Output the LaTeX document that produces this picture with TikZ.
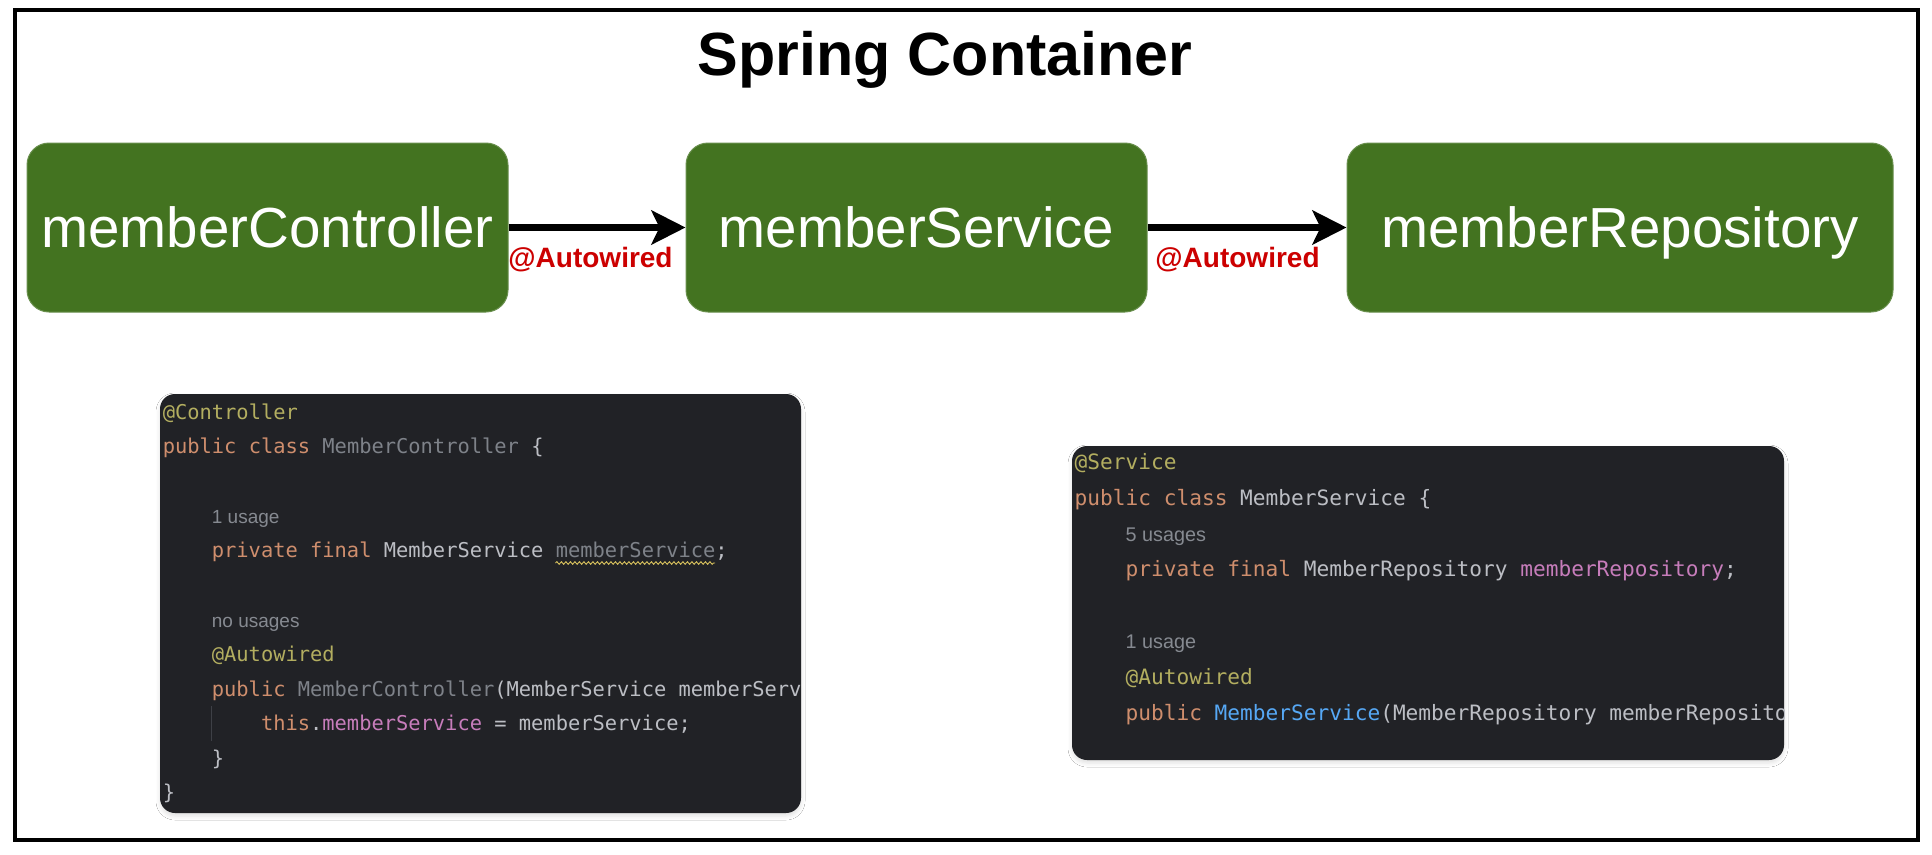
\documentclass[tikz,border=0pt]{standalone}
\usepackage{fontspec}
\setmainfont{Liberation Sans}
\newfontfamily\codefont{DejaVu Sans Mono}
\newfontfamily\hintfont{Liberation Sans}
\usetikzlibrary{arrows.meta,decorations.pathmorphing,shadows.blur}

\definecolor{boxgreen}{HTML}{437320}
\definecolor{autored}{HTML}{CC0000}
\definecolor{codebg}{HTML}{212226}
\definecolor{kw}{HTML}{CF8E6D}
\definecolor{ann}{HTML}{B3AE60}
\definecolor{fg}{HTML}{BCBEC4}
\definecolor{unused}{HTML}{7E8289}
\definecolor{fieldc}{HTML}{C77DBB}
\definecolor{methc}{HTML}{56A8F5}
\definecolor{hintc}{HTML}{868A91}
\definecolor{warnc}{HTML}{D9C25E}
\definecolor{guidec}{HTML}{3E4046}

\tikzset{
  bean/.style={rounded corners=22pt, fill=boxgreen, draw=boxgreen!80!white, line width=1pt,
    text=white, font=\fontsize{56.5}{56.5}\selectfont, minimum height=169pt, inner sep=0pt,
    text height=40pt, text depth=0pt},
  wire/.style={line width=7.5pt, -{Stealth[length=34pt,width=34pt,inset=8pt]}},
  autolab/.style={text=autored, font=\fontsize{28}{28}\selectfont\bfseries, inner sep=0pt},
  codebox/.style={rounded corners=15pt, fill=codebg, draw=none,
    blur shadow={shadow xshift=0pt, shadow yshift=-3pt, shadow blur radius=4pt, shadow opacity=12}},
  codeA/.style={inner sep=0pt, anchor=base west, text=fg, font=\codefont\fontsize{20.4}{20.4}\selectfont},
  hintA/.style={inner sep=0pt, anchor=base west, text=hintc, font=\hintfont\fontsize{19}{19}\selectfont},
  codeB/.style={inner sep=0pt, anchor=base west, text=fg, font=\codefont\fontsize{21.15}{21.15}\selectfont},
  hintB/.style={inner sep=0pt, anchor=base west, text=hintc, font=\hintfont\fontsize{19.8}{19.8}\selectfont},
}

\begin{document}
\begin{tikzpicture}[x=1pt,y=-1pt]
\fill[white] (0,0) rectangle (1932,854);
\useasboundingbox (0,0) rectangle (1932,854);
\draw[line width=4pt] (15,10) rectangle (1918,840);

\node (title) [anchor=base, inner sep=0pt, font=\fontsize{61}{61}\selectfont\bfseries] at (945,75) {Spring Container};

\node[bean, minimum width=481pt] (ctrl) at (267.5,227.5) {memberController};
\node[bean, minimum width=461pt] (svc) at (916.5,227.5) {memberService};
\node[bean, minimum width=546pt] (repo) at (1620,227.5) {memberRepository};

\draw[wire] (ctrl.east) -- (svc.west);
\draw[wire] (svc.east) -- (repo.west);
\node (lab1) [autolab, anchor=base] at (590.5,267) {@Autowired};
\node (lab2) [autolab, anchor=base] at (1237.5,267) {@Autowired};

% code block 1
\node[codebox, minimum width=641pt, minimum height=419pt] (cb1) at (480.5,603.5) {};
\begin{scope}
\clip[rounded corners=15pt] (160,394) rectangle (801,813);
\node[codeA] (c1a) at (162.6,419) {\textcolor{ann}{@Controller}};
\node[codeA] (c1b) at (162.6,453.5) {\textcolor{kw}{public class} \textcolor{unused}{MemberController} \{};
\node[hintA] (c1c) at (211.7,523) {1 usage};
\node[codeA] (c1d) at (211.7,557.5) {\textcolor{kw}{private final} MemberService \textcolor{unused}{memberService};};
\node[hintA] (c1e) at (211.7,627) {no usages};
\node[codeA] (c1f) at (211.7,661.5) {\textcolor{ann}{@Autowired}};
\node[codeA] (c1g) at (211.7,696) {\textcolor{kw}{public} \textcolor{unused}{MemberController}(MemberService memberServ};
\node[codeA] (c1h) at (260.8,730.5) {\textcolor{kw}{this}.\textcolor{fieldc}{memberService} = memberService;};
\node[codeA] (c1i) at (211.7,765) {\}};
\node[codeA] (c1j) at (162.6,799.5) {\}};
\draw[guidec, line width=1.2pt] (211.5,706) -- (211.5,741);
\draw[warnc, line width=0.9pt, decorate, decoration={snake, amplitude=1.3pt, segment length=4.5pt}] (555.5,563) -- (715,563);
\end{scope}

% code block 2
\node[codebox, minimum width=712pt, minimum height=314pt] (cb2) at (1428,603) {};
\begin{scope}
\clip[rounded corners=15pt] (1072,446) rectangle (1784,760);
\node[codeB] (c2a) at (1074.5,469) {\textcolor{ann}{@Service}};
\node[codeB] (c2b) at (1074.5,505) {\textcolor{kw}{public class} MemberService \{};
\node[hintB] (c2c) at (1125.4,541) {5 usages};
\node[codeB] (c2d) at (1125.4,576.5) {\textcolor{kw}{private final} MemberRepository \textcolor{fieldc}{memberRepository};};
\node[hintB] (c2e) at (1125.4,648.5) {1 usage};
\node[codeB] (c2f) at (1125.4,684) {\textcolor{ann}{@Autowired}};
\node[codeB] (c2g) at (1125.4,720) {\textcolor{kw}{public} \textcolor{methc}{MemberService}(MemberRepository memberReposito};
\end{scope}
\end{tikzpicture}
\end{document}
